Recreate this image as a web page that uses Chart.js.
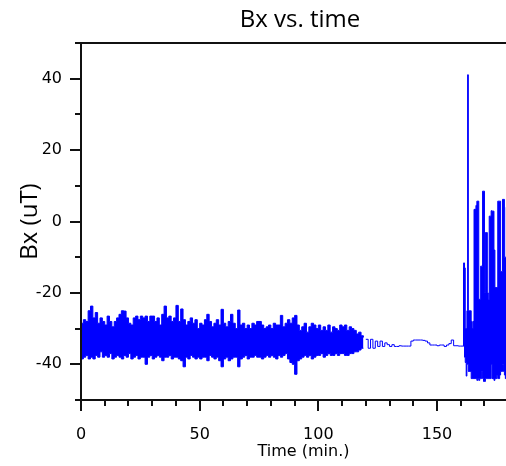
<!DOCTYPE html>
<html>
<head>
<meta charset="utf-8">
<script src="https://cdn.jsdelivr.net/npm/chart.js@4.4.1/dist/chart.umd.min.js"></script>
<style>
  html, body { margin: 0; padding: 0; background: #fff; overflow: hidden; }
  #wrap { width: 526px; height: 466px; }
</style>
</head>
<body>
<div id="wrap"><canvas id="bxChart" width="526" height="466"></canvas></div>
<script>
// noisy part, top and bottom of the trace per minute (t = 0 .. 119)
const noisyHigh = [
  -28.5, -27.5, -28, -25, -23.7, -27, -25.5, -28.5, -27, -28,
  -29, -26.5, -28, -29.5, -28, -27, -26, -25, -25.1, -27,
  -28.5, -29, -27, -26.5, -27.5, -26.5, -27, -26.5, -28, -26.5,
  -26.5, -28, -27, -29, -26, -23.7, -27, -26.5, -28, -27,
  -23.5, -28, -24.5, -27.5, -29, -28, -27, -28.5, -27.5, -30,
  -28.5, -29, -27.5, -26, -28, -29.5, -28.5, -27.5, -29, -24.6,
  -28.5, -29.5, -28, -26, -28.5, -30, -24.8, -29, -28.5, -30,
  -29, -30, -28.5, -29, -28, -28, -29, -30, -29.5, -29,
  -30, -28.5, -29, -29, -26.3, -29.5, -28.5, -27.5, -28.5, -27,
  -26.3, -29, -30.5, -29.5, -28.5, -31, -29.5, -28.5, -29, -30,
  -29, -30.5, -29.5, -30.5, -29, -31, -29.5, -30, -30.5, -29,
  -29.5, -29, -30.5, -29.5, -30, -30.5, -31.5, -31, -32, -32.5
];
const noisyLow = [
  -38.5, -38, -37.5, -38.5, -38, -38.5, -37.5, -38, -36.5, -38,
  -37.5, -38, -37, -38.5, -38, -37.5, -38, -38.5, -37.5, -38,
  -37, -38.5, -38, -37.5, -38.5, -38, -38, -40, -38, -37.5,
  -38.5, -38, -37.5, -38, -39, -38, -38, -37.5, -38.5, -38,
  -38, -38.5, -39, -40.7, -38, -38.5, -37.5, -38, -38.5, -38,
  -38.5, -38, -38, -39, -37.5, -38, -38.5, -38, -39, -40.7,
  -38.5, -38, -39, -38.5, -38, -38, -40.7, -38.5, -38, -37.5,
  -38.5, -38, -38, -37.5, -38, -38, -38.5, -38, -37.5, -38,
  -37.5, -38, -38.5, -37.5, -38, -37.5, -37, -38.5, -39.5, -40,
  -42.8, -39, -38.5, -38, -37.5, -38, -37.5, -38.5, -38, -37.5,
  -37.5, -37, -38, -37.5, -37, -37.5, -37.5, -37, -37.5, -37,
  -37, -37.5, -37.5, -37, -37, -36.5, -36.5, -36, -35.5, -35.5
];
// quiet part, one value per minute (t = 120 .. 161)
const calmStart = 120;
const calmBx = [
  -33, -35.5, -33, -35.5, -33.5, -35, -33.5, -35, -34, -34.5,
  -35, -34.5, -35, -35, -34.8, -34.9, -34.9, -34.9, -34.9, -33.5,
  -33.2, -33.2, -33.2, -33.2, -33.3, -33.5, -34, -34.6, -34.6, -34.6,
  -34.8, -34.6, -34.6, -35, -34.6, -34.2, -33.2, -34.8, -34.8, -34.9,
  -34.9, -34.9
];
// large swings at the end: top and bottom of the trace
const stormTime = [
  161.0, 161.2, 161.6, 161.9, 162.3, 162.6, 162.9, 163.2, 163.6, 164.0,
  164.4, 164.8, 165.2, 165.6, 166.0, 166.4, 166.8, 167.2, 167.6, 168.0,
  168.4, 168.8, 169.2, 169.6, 170.0, 170.4, 170.8, 171.2, 171.6, 172.0,
  172.4, 172.8, 173.2, 173.6, 174.0, 174.4, 174.8, 175.2, 175.6, 176.0,
  176.4, 176.8, 177.2, 177.6, 178.0, 178.4, 178.8, 179.2, 179.6, 180.0
];
const stormHigh = [
  -34.9, -11.6, -13, -30, -30, -25, 41.1, -25, -25, -25,
  -28, -30, -28, 3.4, 3.4, 4.5, 5.7, 5.7, -21.8, -21.8,
  -12.5, -12.5, 8.5, 8.5, -20, -3.1, -3.1, -20, -22, 1.5,
  1.5, 3, 2.9, 2.9, -8, -18.5, -18.5, -18.5, 5.7, 5.7,
  5.7, -14, -14, 6.2, 6.2, -10, -10, 4, 4, -12
];
const stormLow = [
  -34.9, -13, -38, -39.5, -43.3, -40, -40, -42, -42, -42,
  -44, -44, -44, -44, -44, -44, -44.5, -44, -44.5, -44,
  -44, -42, -44, -44.8, -44.8, -44, -44, -44, -44, -44,
  -44, -40, -44, -44, -44.5, -44, -44, -43, -44, -44,
  -43, -42, -42, -40, -42, -43, -44, -42, -40, -42
];

const xTicks = { min: 0, max: 187.5, step: 10, labelEvery: 50 };
const yTicks = { min: -50, max: 50, step: 10, labelEvery: 20 };

const blue = "#0000ff";
const noisyTop = noisyHigh.map((v, i) => ({ x: i, y: v }));
const noisyBottom = noisyLow.map((v, i) => ({ x: i, y: v }));
const calmLine = calmBx.map((v, i) => ({ x: calmStart + i, y: v }));
const stormTop = stormHigh.map((v, i) => ({ x: stormTime[i], y: v }));
const stormBottom = stormLow.map((v, i) => ({ x: stormTime[i], y: v }));

function band(data, fill) {
  return {
    data: data,
    borderColor: blue,
    backgroundColor: blue,
    borderWidth: 1,
    pointRadius: 0,
    stepped: true,
    fill: fill
  };
}

const axisPlugin = {
  id: "axisPlugin",
  afterDraw(chart) {
    const ctx = chart.ctx;
    const area = chart.chartArea;
    const xs = chart.scales.x;
    const ys = chart.scales.y;
    ctx.save();
    ctx.strokeStyle = "#111";
    ctx.lineWidth = 2;
    ctx.beginPath();
    // left axis, bottom axis, top frame
    ctx.moveTo(area.left, area.top);
    ctx.lineTo(area.left, area.bottom + 1);
    ctx.moveTo(area.left - 1, area.bottom);
    ctx.lineTo(chart.width, area.bottom);
    ctx.moveTo(area.left - 6, area.top);
    ctx.lineTo(chart.width, area.top);
    ys.ticks.forEach(t => {
      const py = Math.round(ys.getPixelForValue(t.value));
      const len = t.value % yTicks.labelEvery === 0 ? 11 : 6;
      ctx.moveTo(area.left - len, py);
      ctx.lineTo(area.left, py);
    });
    xs.ticks.forEach(t => {
      const px = Math.round(xs.getPixelForValue(t.value));
      const len = t.value % xTicks.labelEvery === 0 ? 11 : 6;
      ctx.moveTo(px, area.bottom);
      ctx.lineTo(px, area.bottom + len);
    });
    ctx.stroke();

    ctx.fillStyle = "#000";
    ctx.font = '24px "Open Sans"';
    ctx.textAlign = "center";
    ctx.textBaseline = "alphabetic";
    ctx.fillText("Bx vs. time", 300, 27);
    ctx.restore();
  }
};

new Chart(document.getElementById("bxChart").getContext("2d"), {
  type: "line",
  data: {
    datasets: [
      band(noisyTop, "+1"),
      band(noisyBottom, false),
      band(calmLine, false),
      band(stormTop, "+1"),
      band(stormBottom, false)
    ]
  },
  options: {
    responsive: false,
    animation: false,
    devicePixelRatio: 1,
    layout: { padding: { top: 43, left: 0, right: 0, bottom: 0 } },
    plugins: {
      legend: { display: false },
      tooltip: { enabled: false },
      title: { display: false }
    },
    scales: {
      x: {
        type: "linear",
        min: xTicks.min,
        max: xTicks.max,
        grid: { display: false, drawTicks: true, tickLength: 25 },
        border: { display: false },
        ticks: {
          stepSize: xTicks.step,
          includeBounds: false,
          autoSkip: false,
          maxRotation: 0,
          padding: 0,
          color: "#000",
          font: { family: "DejaVu Sans", size: 16 },
          callback: v => (v % xTicks.labelEvery === 0 ? String(v) : "")
        },
        title: {
          display: true,
          text: "Time (min.)",
          color: "#000",
          font: { family: "DejaVu Sans", size: 16 },
          padding: { top: 0, bottom: 5 }
        },
        afterFit: s => { s.height = 66; }
      },
      y: {
        type: "linear",
        min: yTicks.min,
        max: yTicks.max,
        grid: { display: false, drawTicks: true, tickLength: 19 },
        border: { display: false },
        ticks: {
          stepSize: yTicks.step,
          includeBounds: false,
          autoSkip: false,
          padding: 0,
          color: "#000",
          font: { family: "DejaVu Sans", size: 16 },
          callback: v => (v % yTicks.labelEvery === 0 ? String(v) : "")
        },
        title: {
          display: true,
          text: "Bx (uT)",
          color: "#000",
          font: { family: "Open Sans", size: 24 },
          padding: { top: 16, bottom: 0 }
        },
        afterFit: s => { s.width = 81; }
      }
    }
  },
  plugins: [axisPlugin]
});
</script>
</body>
</html>
